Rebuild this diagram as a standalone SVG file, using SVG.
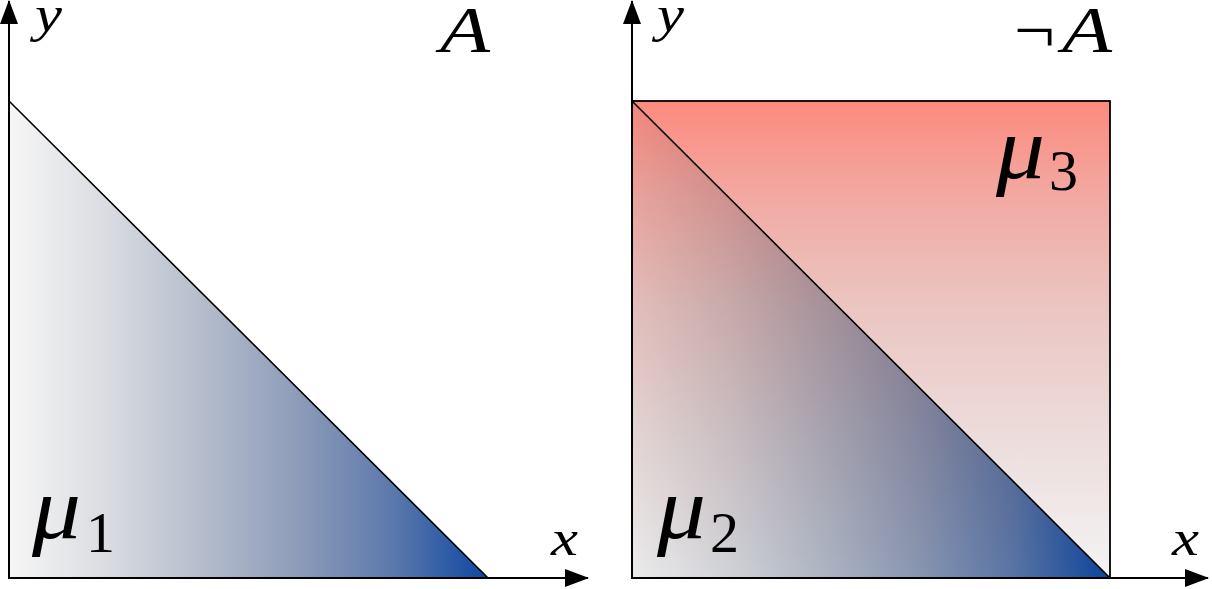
<svg xmlns="http://www.w3.org/2000/svg" width="1212" height="589" viewBox="0 0 1212 589">
<style>
.ax{stroke:#000;stroke-width:2;fill:none}
.ed{stroke:#000;stroke-width:1.6;fill:none}
.m{font-family:"Liberation Serif","DejaVu Serif",serif;font-style:italic;fill:#000}
.d{font-family:"Liberation Serif","DejaVu Serif",serif;fill:#000}
.mul{mix-blend-mode:multiply}
</style>
<defs>
<linearGradient id="gb" x1="9" y1="0" x2="488" y2="0" gradientUnits="userSpaceOnUse">
<stop offset="0" stop-color="#f6f6f6"/>
<stop offset="0.2" stop-color="#dadce1"/>
<stop offset="0.4" stop-color="#b5bdcc"/>
<stop offset="0.6" stop-color="#8e9cb9"/>
<stop offset="0.8" stop-color="#5c79ac"/>
<stop offset="1" stop-color="#0d47a1"/>
</linearGradient>
<linearGradient id="gb2" x1="632" y1="0" x2="1110" y2="0" gradientUnits="userSpaceOnUse">
<stop offset="0" stop-color="#f6f6f6"/>
<stop offset="0.2" stop-color="#dadce1"/>
<stop offset="0.4" stop-color="#b5bdcc"/>
<stop offset="0.6" stop-color="#8e9cb9"/>
<stop offset="0.8" stop-color="#5c79ac"/>
<stop offset="1" stop-color="#0d47a1"/>
</linearGradient>
<linearGradient id="gr" x1="0" y1="101" x2="0" y2="578" gradientUnits="userSpaceOnUse">
<stop offset="0" stop-color="#fc8a7e"/>
<stop offset="0.2" stop-color="#f2a9a2"/>
<stop offset="0.42" stop-color="#ebc4c0"/>
<stop offset="0.7" stop-color="#ecdcdb"/>
<stop offset="1" stop-color="#f4f4f4"/>
</linearGradient>
<marker id="ar" viewBox="0 0 24 18" refX="23" refY="9" markerWidth="24" markerHeight="18" markerUnits="userSpaceOnUse" orient="auto">
<path d="M0,0 L24,9 L0,18 Z" fill="#000"/>
</marker>
</defs>
<g id="panel-A">
<polygon points="9,101 9,578 488,578" fill="url(#gb)"/>
<polyline class="ed" points="9,101 488,578"/>
</g>
<g id="panel-notA">
<rect x="632" y="101" width="478" height="477" fill="url(#gr)" stroke="#000" stroke-width="1.8"/>
<polygon class="mul" points="632,101 632,578 1110,578" fill="url(#gb2)"/>
<polyline class="ed" points="632,101 1110,578"/>
</g>
<g id="connectors">
<line class="ax" x1="9" y1="579" x2="9" y2="1" marker-end="url(#ar)"/>
<line class="ax" x1="8" y1="578" x2="588" y2="578" marker-end="url(#ar)"/>
<line class="ax" x1="632" y1="579" x2="632" y2="1" marker-end="url(#ar)"/>
<line class="ax" x1="631" y1="578" x2="1208" y2="578" marker-end="url(#ar)"/>
</g>
<g id="labels">
<text class="m" x="35" y="31" font-size="50" textLength="27" lengthAdjust="spacingAndGlyphs">y</text>
<text class="m" x="551" y="555" font-size="50" textLength="27" lengthAdjust="spacingAndGlyphs">x</text>
<text class="m" x="657" y="31" font-size="50" textLength="27" lengthAdjust="spacingAndGlyphs">y</text>
<text class="m" x="1172" y="555" font-size="50" textLength="27" lengthAdjust="spacingAndGlyphs">x</text>
<text class="m" x="440" y="52" font-size="66" textLength="50" lengthAdjust="spacingAndGlyphs">A</text>
<text class="d" x="1014" y="52" font-size="66" textLength="41" lengthAdjust="spacingAndGlyphs">¬</text>
<text class="m" x="1062" y="52" font-size="66" textLength="50" lengthAdjust="spacingAndGlyphs">A</text>
<text class="m" x="32" y="538" font-size="88" textLength="49" lengthAdjust="spacingAndGlyphs">μ</text>
<text class="d" x="86" y="552" font-size="58">1</text>
<text class="m" x="657" y="538" font-size="88" textLength="49" lengthAdjust="spacingAndGlyphs">μ</text>
<text class="d" x="710" y="552" font-size="58">2</text>
<text class="m" x="996" y="178" font-size="88" textLength="49" lengthAdjust="spacingAndGlyphs">μ</text>
<text class="d" x="1049" y="190" font-size="58">3</text>
</g>
</svg>
